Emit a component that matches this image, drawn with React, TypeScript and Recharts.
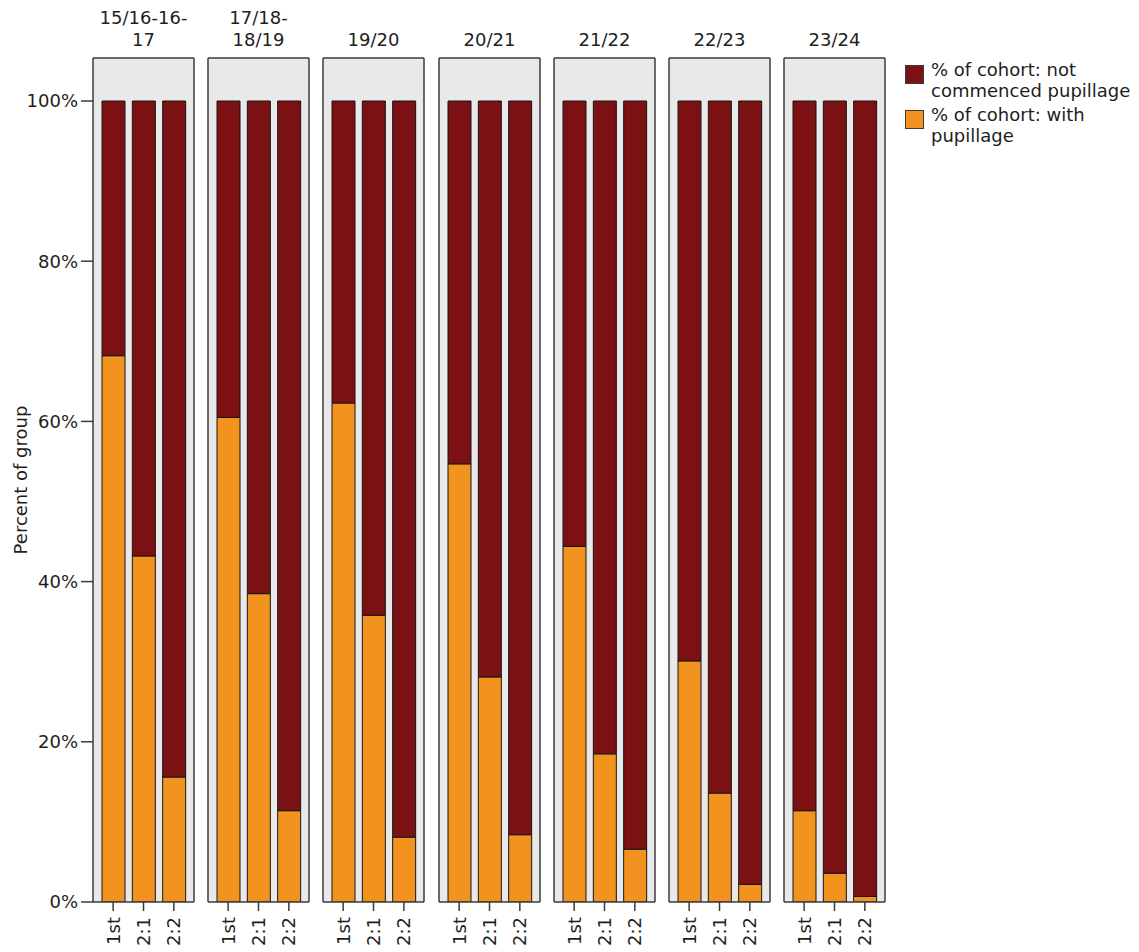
import * as React from 'react';
import {
  BarChart,
  Bar,
  XAxis,
  YAxis,
  CartesianGrid,
  Legend,
} from 'recharts';

// cohort facets, degree classes and % of cohort with pupillage
const cohorts = ['15/16-16-17', '17/18-18/19', '19/20', '20/21', '21/22', '22/23', '23/24'];
const degreeClasses = ['1st', '2:1', '2:2'];
const withPupillageFirst = [68.2, 60.5, 62.3, 54.7, 44.4, 30.1, 11.4];
const withPupillageUpperSecond = [43.2, 38.5, 35.8, 28.1, 18.5, 13.6, 3.6];
const withPupillageLowerSecond = [15.6, 11.4, 8.1, 8.4, 6.6, 2.2, 0.7];
const yTicks = [0, 20, 40, 60, 80, 100];

const WITH_NAME = '% of cohort: with pupillage';
const NOT_NAME = '% of cohort: not commenced pupillage';

const FONT = '"DejaVu Sans", Verdana, sans-serif';
const TEXT = '#1e1e1e';
const BORDER = '#3b3b3b';
const ORANGE = '#f2931f';
const DARK_RED = '#7b1113';
const PANEL_BG = '#e9e9e9';

const CHART_H = 952;
const TOP = 58;
const X_AXIS_H = 50;
const PANEL_W = 101;
const Y_AXIS_W = 93;
// plot runs 58..902, 100% sits at y=101
const Y_MAX = (CHART_H - TOP - X_AXIS_H) / 8.01;

const panelRows = cohorts.map((_, i) => {
  const values = [withPupillageFirst[i], withPupillageUpperSecond[i], withPupillageLowerSecond[i]];
  return degreeClasses.map((degree, j) => ({
    degree,
    withPupillage: values[j],
    notCommenced: +(100 - values[j]).toFixed(1),
  }));
});

function DegreeTick({ x, y, payload }: any) {
  const ty = y + 4;
  return (
    <text
      x={x}
      y={ty}
      transform={`rotate(-90 ${x} ${ty})`}
      textAnchor="end"
      dy="0.36em"
      fontSize={18}
      fontFamily={FONT}
      fill={TEXT}
    >
      {payload.value}
    </text>
  );
}

function YTitle({ viewBox }: any) {
  const cx = (viewBox?.x ?? 0) + 21;
  const cy = (viewBox?.y ?? TOP) + (viewBox?.height ?? 844) / 2;
  return (
    <text
      x={cx}
      y={cy}
      transform={`rotate(-90 ${cx} ${cy})`}
      textAnchor="middle"
      dy="0.36em"
      fontSize={18}
      fontFamily={FONT}
      fill={TEXT}
    >
      Percent of group
    </text>
  );
}

function LegendBox({ payload }: any) {
  const items = [...(payload || [])].sort((a, b) =>
    String(a.value).localeCompare(String(b.value))
  );
  return (
    <div style={{ fontFamily: FONT, fontSize: 18, lineHeight: '21px', color: TEXT }}>
      {items.map((item) => (
        <div key={item.value} style={{ display: 'flex', alignItems: 'flex-start', marginBottom: 3 }}>
          <span
            style={{
              width: 17,
              height: 17,
              background: item.color,
              border: `1.5px solid ${BORDER}`,
              marginTop: 6,
              marginRight: 7,
              flex: 'none',
            }}
          />
          <span>{item.value}</span>
        </div>
      ))}
    </div>
  );
}

const borderLine = { stroke: BORDER, strokeWidth: 1.5 };

function Panel({ index }: { index: number }) {
  const first = index === 0;
  const last = index === cohorts.length - 1;
  const panelLeft = Math.round(93 + index * 115.17);
  const yW = first ? Y_AXIS_W : 1;
  const left = panelLeft - yW;
  return (
    <>
      <div
        style={{
          position: 'absolute',
          left: panelLeft,
          top: 0,
          width: PANEL_W,
          height: 51,
          display: 'flex',
          flexDirection: 'column',
          justifyContent: 'flex-end',
          textAlign: 'center',
          fontFamily: FONT,
          fontSize: 18,
          lineHeight: '22px',
          color: TEXT,
        }}
      >
        {cohorts[index]}
      </div>
      <div style={{ position: 'absolute', left, top: 0 }}>
        <BarChart
          width={yW + PANEL_W + 1}
          height={CHART_H}
          data={panelRows[index]}
          margin={{ top: TOP - 1, right: 0, bottom: 0, left: 0 }}
          barSize={23}
        >
          <CartesianGrid horizontal={false} vertical={false} fill={PANEL_BG} fillOpacity={1} />
          <XAxis
            dataKey="degree"
            interval={0}
            height={X_AXIS_H}
            padding={{ left: 5, right: 5 }}
            tickSize={9}
            tickMargin={2}
            tickLine={borderLine}
            axisLine={borderLine}
            tick={<DegreeTick />}
          />
          <XAxis
            xAxisId="top"
            orientation="top"
            dataKey="degree"
            height={1}
            tick={false}
            tickLine={false}
            axisLine={borderLine}
          />
          <YAxis
            width={yW}
            domain={[0, Y_MAX]}
            ticks={yTicks}
            allowDataOverflow
            tickFormatter={(v) => `${v}%`}
            tick={first ? { fontSize: 18, fontFamily: FONT, fill: TEXT } : false}
            tickSize={12}
            tickMargin={3}
            tickLine={first ? borderLine : false}
            axisLine={borderLine}
            label={first ? { value: 'Percent of group', content: <YTitle /> } : undefined}
          />
          <YAxis
            yAxisId="right"
            orientation="right"
            width={1}
            domain={[0, Y_MAX]}
            allowDataOverflow
            tick={false}
            tickLine={false}
            axisLine={borderLine}
          />
          <Bar
            dataKey="withPupillage"
            name={WITH_NAME}
            stackId="a"
            fill={ORANGE}
            stroke="#151515"
            strokeWidth={1}
            isAnimationActive={false}
          />
          <Bar
            dataKey="notCommenced"
            name={NOT_NAME}
            stackId="a"
            fill={DARK_RED}
            stroke="#151515"
            strokeWidth={1}
            isAnimationActive={false}
          />
          {last && (
            <Legend
              layout="vertical"
              align="center"
              verticalAlign="middle"
              content={<LegendBox />}
              wrapperStyle={{ left: 905 - left, top: 59, width: 230, bottom: 'auto', height: 'auto' }}
            />
          )}
        </BarChart>
      </div>
    </>
  );
}

export default function App() {
  return (
    <div
      style={{
        position: 'absolute',
        left: 0,
        top: 0,
        width: 1139,
        height: 952,
        background: '#fff',
        overflow: 'hidden',
      }}
    >
      {cohorts.map((c, i) => (
        <Panel key={c} index={i} />
      ))}
    </div>
  );
}
